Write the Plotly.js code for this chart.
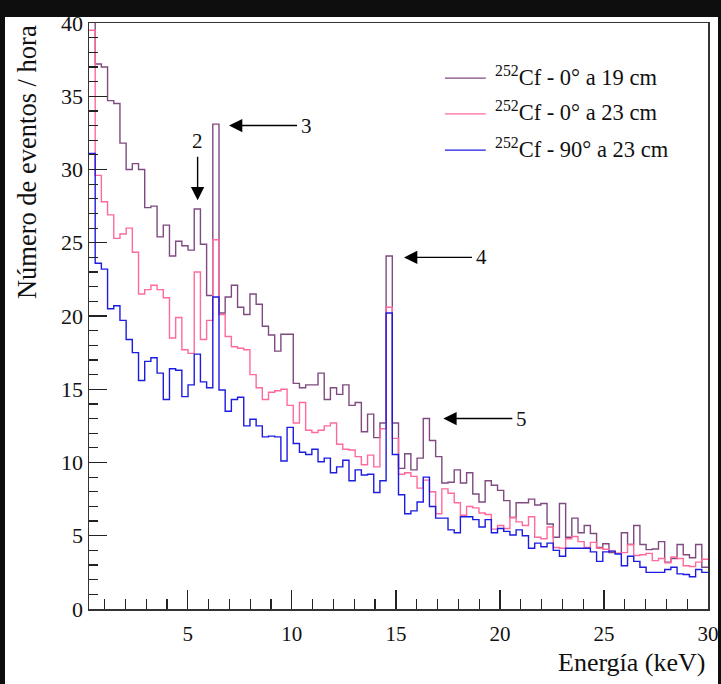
<!DOCTYPE html>
<html>
<head>
<meta charset="utf-8">
<script src="https://cdn.plot.ly/plotly-3.0.1.min.js"></script>
<style>
  html, body { margin: 0; padding: 0; background: #0e0e0e; width: 721px; height: 684px; overflow: hidden; }
  #sheet { position: absolute; left: 5px; top: 17px; width: 713px; height: 667px; background: #fff; }
  #plot { position: absolute; left: 0; top: 0; width: 721px; height: 684px; }
</style>
</head>
<body>
<div id="sheet"></div>
<div id="plot"></div>
<script>
// Energy binning: 100 bins between 0.25 and 30 keV
const energyLow = 0.25;
const energyHigh = 30;
const nBins = 100;

const seriesNames = [
  '<sup>252</sup>Cf - 0° a 19 cm',
  '<sup>252</sup>Cf - 0° a 23 cm',
  '<sup>252</sup>Cf - 90° a 23 cm'
];

// Counts per hour in each bin
const cf0deg19cm = [
  41, 37.2, 37.0, 34.7, 34.5, 31.8, 30.0, 30.4, 30.0, 27.4,
  27.5, 25.4, 26.2, 24.1, 25.1, 24.8, 24.5, 27.3, 24.9, 21.4,
  33.1, 20.2, 21.3, 22.1, 20.6, 20.1, 21.5, 20.8, 19.3, 18.7,
  17.6, 18.75, 18.75, 15.4, 15.1, 15.3, 15.3, 16.1, 14.3, 15.1,
  14.65, 15.3, 13.9, 14.1, 12.1, 13.3, 11.7, 12.7, 24.1, 12.7,
  9.6, 10.6, 9.5, 10.3, 13.0, 11.5, 10.4, 8.6, 8.65, 9.5,
  8.6, 9.3, 7.85, 7.3, 8.75, 8.45, 8.1, 7.4, 6.25, 7.25,
  7.25, 7.5, 7.1, 7.2, 5.8, 4.9, 7.2, 4.9, 6.2, 5.2,
  5.7, 5.15, 4.2, 4.45, 3.85, 3.8, 5.2, 4.4, 5.7, 4.4,
  4.05, 4.1, 4.6, 3.2, 3.45, 4.4, 3.7, 3.5, 4.4, 2.85
];

const cf0deg23cm = [
  39.5, 29.6, 27.8, 26.9, 25.3, 25.6, 26.0, 24.35, 21.5, 21.8,
  22.1, 21.8, 21.25, 18.5, 19.9, 17.7, 17.45, 23.0, 18.4, 19.7,
  25.2, 20.1, 18.6, 17.9, 17.8, 17.7, 16.0, 15.1, 14.3, 14.8,
  14.9, 15.0, 13.9, 12.7, 14.1, 12.2, 12.05, 12.2, 12.5, 12.7,
  11.25, 10.9, 10.85, 10.4, 9.85, 10.5, 9.7, 12.3, 20.6, 11.65,
  9.2, 9.3, 9.05, 8.25, 8.8, 8.0, 6.5, 8.2, 7.9, 7.25,
  6.4, 7.0, 6.9, 6.55, 6.45, 5.45, 5.7, 5.5, 6.25, 5.95,
  5.7, 6.3, 4.9, 4.8, 5.6, 4.2, 4.15, 4.8, 4.95, 4.6,
  4.2, 4.55, 4.15, 4.08, 3.95, 3.8, 3.85, 4.4, 3.65, 3.7,
  3.8, 3.3, 3.45, 3.15, 3.55, 3.45, 2.95, 2.9, 3.2, 3.4
];

const cf90deg23cm = [
  31.1, 23.6, 23.2, 20.5, 20.7, 19.7, 18.4, 17.5, 15.6, 16.9,
  17.15, 16.1, 14.3, 16.4, 16.3, 14.5, 15.3, 17.4, 15.5, 15.1,
  21.3, 14.95, 13.5, 14.3, 14.45, 12.5, 12.95, 12.5, 11.75, 11.8,
  11.75, 10.1, 12.4, 11.3, 10.7, 10.55, 10.9, 10.05, 10.3, 9.3,
  9.7, 10.15, 8.75, 9.5, 9.15, 9.2, 7.95, 8.75, 20.2, 10.55,
  7.8, 6.5, 6.7, 7.3, 9.0, 7.0, 6.2, 6.2, 5.4, 5.2,
  6.3, 6.3, 6.1, 5.6, 6.1, 5.2, 5.5, 5.3, 5.05, 5.4,
  5.0, 4.15, 4.5, 4.25, 4.5, 4.0, 3.6, 4.15, 4.15, 4.15,
  4.15, 3.9, 3.25, 3.9, 3.95, 3.75, 2.95, 3.6, 3.25, 2.85,
  2.5, 2.5, 2.5, 2.7, 2.85, 2.4, 2.35, 2.2, 2.7, 2.5
];

// Labelled lines: number and the point its arrow touches (keV, counts)
const peakLabels = ['2', '3', '4', '5'];
const peakTipEnergy = [5.47, 6.98, 15.39, 17.28];
const peakTipCounts = [27.9, 33.0, 24.0, 13.0];

const seriesColors = ['#7f4a80', '#ff6a9c', '#1c1ce0'];

const binWidth = (energyHigh - energyLow) / nBins;
const edges = [];
for (let i = 0; i <= nBins; i++) edges.push(energyLow + i * binWidth);

function stepTrace(values, name, color) {
  return {
    type: 'scatter',
    mode: 'lines',
    x: edges,
    y: values.concat([values[values.length - 1]]),
    line: { shape: 'hv', color: color, width: 1.4 },
    name: name,
    showlegend: false,
    hoverinfo: 'skip'
  };
}

const allSeries = [cf0deg19cm, cf0deg23cm, cf90deg23cm];
const traces = allSeries.map((s, i) => stepTrace(s, seriesNames[i], seriesColors[i]));

const serif = 'Liberation Serif, Times New Roman, serif';

// Legend drawn as sample lines + labels in the upper right
const shapes = [];
const annotations = [];
const legendY = [0.906, 0.845, 0.783];
seriesNames.forEach((n, i) => {
  shapes.push({
    type: 'line', xref: 'paper', yref: 'paper',
    x0: 0.575, x1: 0.641, y0: legendY[i], y1: legendY[i],
    line: { color: seriesColors[i], width: 1.4 }
  });
  annotations.push({
    xref: 'paper', yref: 'paper', x: 0.652, y: legendY[i] + 0.004,
    xanchor: 'left', yanchor: 'middle', showarrow: false,
    text: n, font: { family: serif, size: 22.5, color: '#111' }
  });
});

// Arrows marking the lines, each with its number at the tail
const arrowOffsets = [[0, -59], [77, 0], [77, 0], [78, 0]];
peakLabels.forEach((lab, i) => {
  annotations.push({
    xref: 'x', yref: 'y', x: peakTipEnergy[i], y: peakTipCounts[i],
    ax: arrowOffsets[i][0], ay: arrowOffsets[i][1],
    text: lab, showarrow: true, arrowhead: 2, arrowsize: 1.9,
    arrowwidth: 1.4, arrowcolor: '#000', standoff: 0, borderpad: 3,
    font: { family: serif, size: 21, color: '#111' }
  });
});

// Axis titles, aligned to the axis ends
annotations.push({
  xref: 'paper', yref: 'paper', x: 1.0, y: -0.092,
  xanchor: 'right', yanchor: 'middle', showarrow: false,
  text: 'Energía (keV)', font: { family: serif, size: 26, color: '#111' }
});
annotations.push({
  xref: 'paper', yref: 'paper', x: -0.1, y: 1.0,
  xanchor: 'center', yanchor: 'top', textangle: -90, showarrow: false,
  text: 'Número de eventos / hora', font: { family: serif, size: 26.5, color: '#111' }
});

const layout = {
  width: 721, height: 684,
  margin: { l: 89, r: 13, t: 23, b: 75 },
  paper_bgcolor: 'rgba(0,0,0,0)',
  plot_bgcolor: '#ffffff',
  showlegend: false,
  xaxis: {
    range: [energyLow, energyHigh],
    tick0: 0, dtick: 5, ticks: 'inside', ticklen: 19, tickwidth: 1.2, tickcolor: '#222',
    minor: { dtick: 1, ticks: 'inside', ticklen: 10, tickwidth: 1.2, tickcolor: '#222', showgrid: false },
    showgrid: false, zeroline: false,
    showline: true, mirror: true, linecolor: '#333', linewidth: 1.5,
    ticklabeloverflow: 'allow', ticklabelstandoff: 5,
    tickfont: { family: serif, size: 21, color: '#111' }
  },
  yaxis: {
    range: [0, 40],
    tick0: 0, dtick: 5, ticks: 'inside', ticklen: 18, tickwidth: 1.2, tickcolor: '#222',
    minor: { dtick: 1, ticks: 'inside', ticklen: 9, tickwidth: 1.2, tickcolor: '#222', showgrid: false },
    showgrid: false, zeroline: false,
    showline: true, mirror: true, linecolor: '#333', linewidth: 1.5,
    ticklabeloverflow: 'allow',
    tickfont: { family: serif, size: 22, color: '#111' }
  },
  shapes: shapes,
  annotations: annotations
};

Plotly.newPlot('plot', traces, layout, { displayModeBar: false, staticPlot: true });
</script>
</body>
</html>
